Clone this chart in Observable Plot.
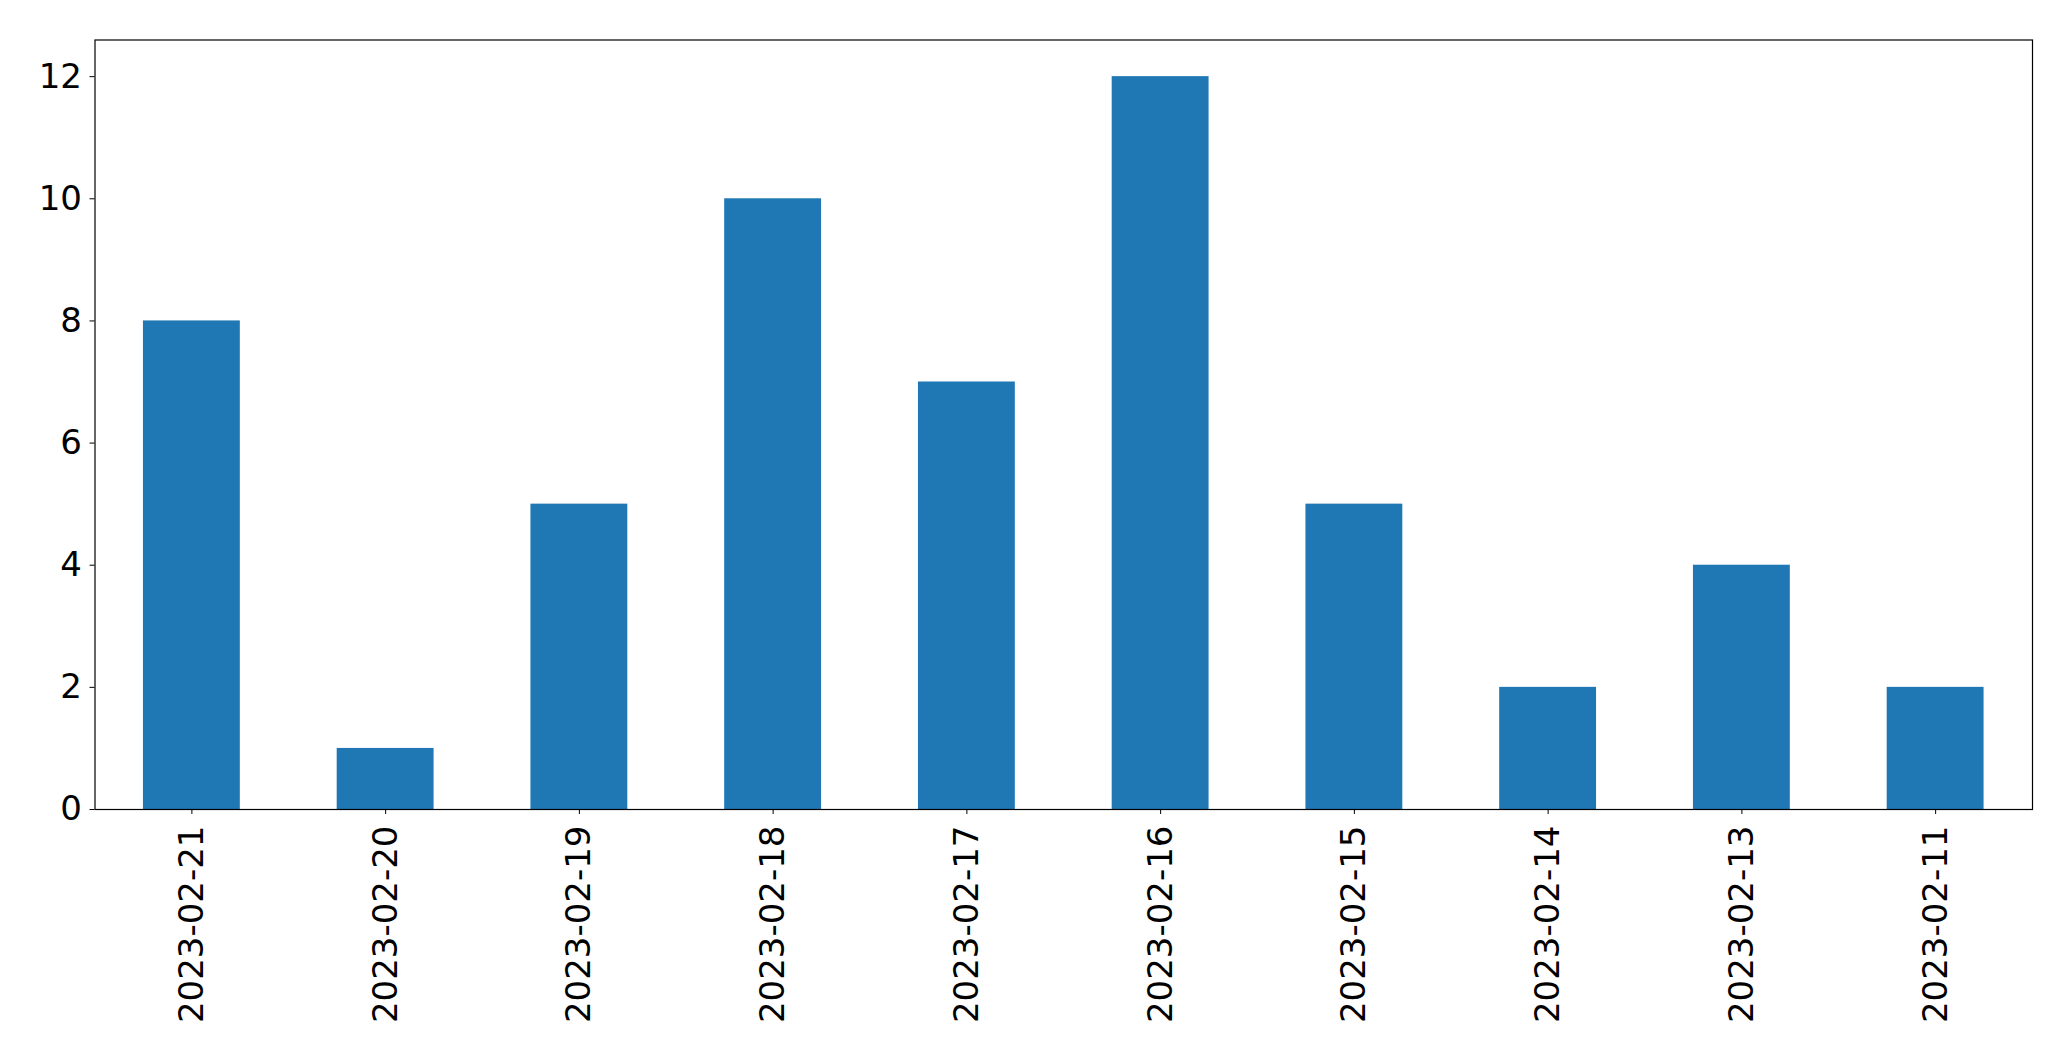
<!DOCTYPE html>
<html>
<head>
<meta charset="utf-8">
<script src="https://cdn.jsdelivr.net/npm/d3@7"></script>
<script src="https://cdn.jsdelivr.net/npm/@observablehq/plot@0.6"></script>
<style>
  html, body { margin: 0; padding: 0; background: #fff; }
  #chart svg { display: block; }
</style>
</head>
<body>
<div id="chart"></div>
<script>
const dates = ["2023-02-21", "2023-02-20", "2023-02-19", "2023-02-18", "2023-02-17",
               "2023-02-16", "2023-02-15", "2023-02-14", "2023-02-13", "2023-02-11"];
const counts = [8, 1, 5, 10, 7, 12, 5, 2, 4, 2];
const yTicks = [0, 2, 4, 6, 8, 10, 12];

const data = dates.map((d, i) => ({date: d, count: counts[i]}));

const chart = Plot.plot({
  width: 2071,
  height: 1061,
  marginLeft: 94.5,
  marginRight: 39,
  marginTop: 39.5,
  marginBottom: 252,
  style: {fontFamily: "DejaVu Sans", fontSize: "34px", color: "#000", background: "#fff"},
  x: {domain: dates, paddingInner: 0.5, paddingOuter: 0.25, round: false, label: null},
  y: {domain: [0, 12.6], label: null},
  marks: [
    Plot.barY(data, {x: "date", y: "count", fill: "#1f77b4"}),
    Plot.axisY({ticks: yTicks, tickSize: 5, tickPadding: 8, tickFormat: d => String(d), label: null, fontSize: 34}),
    Plot.axisX({tickSize: 5, tickRotate: -90, tickPadding: 11, label: null, fontSize: 34}),
    Plot.frame({stroke: "#000", strokeWidth: 1.2})
  ]
});
document.getElementById("chart").appendChild(chart);
</script>
</body>
</html>
